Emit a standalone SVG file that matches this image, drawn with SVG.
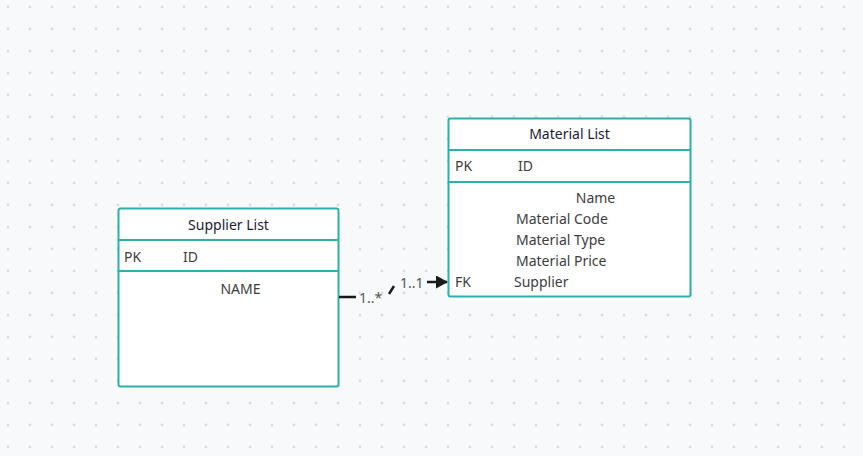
<svg xmlns="http://www.w3.org/2000/svg" width="863" height="456" viewBox="0 0 863 456">
<defs>
<pattern id="grid" x="-3" y="-4" width="22" height="22" patternUnits="userSpaceOnUse">
<circle cx="11" cy="11" r="1.4" fill="#dcdde0"/>
</pattern>
<marker id="arrow" viewBox="0 0 12 13" refX="11" refY="6.5" markerWidth="12" markerHeight="13" markerUnits="userSpaceOnUse" orient="auto">
<path d="M0,0 L12,6.5 L0,13 Z" fill="#1a1a1a"/>
</marker>
<style>
.box{fill:#ffffff;stroke:#2bb0ad;stroke-width:2}
.div{stroke:#2bb0ad;stroke-width:2}
.title{font-family:"Noto Sans","Open Sans",sans-serif;font-size:14px;fill:#1b1b35}
.f{font-family:"Noto Sans","Open Sans",sans-serif;font-size:14px;fill:#3d3d3d}
.lbl{font-family:"Noto Sans","Open Sans",sans-serif;font-size:14px;fill:#555555}
.edge{stroke:#1a1a1a;stroke-width:2.5;fill:none}
</style>
</defs>
<rect width="863" height="456" fill="#f8f9fb"/>
<rect width="863" height="456" fill="url(#grid)"/>
<g id="supplier-list">
<rect class="box" x="118.5" y="208.5" width="220" height="178" rx="2"/>
<line class="div" x1="118.5" y1="240" x2="338.5" y2="240"/>
<line class="div" x1="118.5" y1="271" x2="338.5" y2="271"/>
<text class="title" x="228.5" y="230" text-anchor="middle">Supplier List</text>
<text class="f" x="124" y="262">PK</text>
<text class="f" x="183" y="262">ID</text>
<text class="f" x="240.5" y="294" text-anchor="middle">NAME</text>
</g>
<g id="material-list">
<rect class="box" x="448.5" y="118.5" width="242" height="178" rx="2"/>
<line class="div" x1="448.5" y1="150" x2="690.5" y2="150"/>
<line class="div" x1="448.5" y1="182" x2="690.5" y2="182"/>
<text class="title" x="569.5" y="139" text-anchor="middle">Material List</text>
<text class="f" x="455" y="171">PK</text>
<text class="f" x="518" y="171">ID</text>
<text class="f" x="595.5" y="203" text-anchor="middle">Name</text>
<text class="f" x="516" y="224">Material Code</text>
<text class="f" x="516" y="245">Material Type</text>
<text class="f" x="516" y="266">Material Price</text>
<text class="f" x="455" y="287">FK</text>
<text class="f" x="514" y="287">Supplier</text>
</g>
<g id="connectors">
<line class="edge" x1="339" y1="297" x2="356" y2="297"/>
<line class="edge" x1="389" y1="294" x2="394" y2="286"/>
<line class="edge" x1="427" y1="282" x2="447" y2="282" marker-end="url(#arrow)"/>
<text class="lbl" x="359" y="303">1..*</text>
<text class="lbl" x="400" y="288">1..1</text>
</g>
</svg>
